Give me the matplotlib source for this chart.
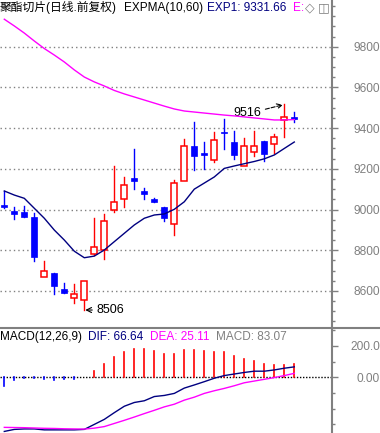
import numpy as np
import matplotlib.pyplot as plt
from matplotlib.lines import Line2D
from matplotlib.patches import Rectangle
from matplotlib.ticker import MultipleLocator

plt.rcParams['font.family'] = ['Liberation Sans', 'Noto Sans CJK SC', 'DejaVu Sans']

# daily candles (index 0..29)
opens  = [9020, 8993, 8988, 8965, 8667, 8686, 8609, 8564, 8554, 8780,
          8801, 8998, 9050, 9153, 9091, 9050, 9011, 8927, 9139, 9312,
          9272, 9243, 9380, 9333, 9216, 9285, 9337, 9321, 9440, 9452]
highs  = [9091, 9012, 9019, 8984, 8748, 8688, 8637, 8632, 8647, 8960,
          8977, 9214, 9158, 9296, 9104, 9057, 9013, 9145, 9345, 9431,
          9333, 9379, 9447, 9387, 9350, 9388, 9337, 9369, 9516, 9481]
lows   = [9009, 8955, 8962, 8748, 8667, 8583, 8588, 8539, 8506, 8778,
          8758, 8988, 9014, 9099, 9050, 9035, 8945, 8876, 9139, 9194,
          9197, 9235, 9298, 9249, 9216, 9264, 9240, 9277, 9358, 9428]
closes = [9012, 8980, 8965, 8765, 8698, 8622, 8588, 8583, 8647, 8817,
          8942, 9037, 9119, 9141, 9075, 9038, 8960, 9129, 9312, 9264,
          9270, 9340, 9377, 9266, 9310, 9311, 9271, 9355, 9453, 9449]

exp1 = [9091, 9071, 9055, 9006, 8957, 8899, 8850, 8795, 8763, 8771,
        8801, 8842, 8883, 8924, 8957, 8973, 8978, 9001, 9038, 9100,
        9130, 9160, 9202, 9214, 9225, 9236, 9249, 9268, 9300, 9331.66]
exp2 = [9935, 9902, 9867, 9828, 9791, 9759, 9725, 9686, 9651, 9627,
        9607, 9585, 9568, 9553, 9538, 9523, 9508, 9494, 9484, 9479,
        9474, 9469, 9464, 9460, 9455, 9450, 9445, 9440, 9440, 9442]

dif = [-346, -333, -330, -330, -336, -336, -336, -336, -333, -301,
       -269, -226, -185, -161, -150, -123, -116, -103, -69, -49,
       -28, -6, 11, 21, 31, 39, 39, 47, 58, 66.64]
dea = [-320, -321, -322, -324, -326, -327, -329, -330, -331, -325,
       -315, -295, -275, -254, -232, -211, -189, -172, -146, -127,
       -103, -86, -71, -54, -35, -24, -13, -2, 11, 25.11]
macd = [-55, -19, -2, -6, -13, -17, -13, -8, -1, 43,
        87, 128, 164, 181, 181, 168, 149, 149, 175, 175,
        168, 164, 164, 136, 117, 104, 85, 81, 81, 83.07]

price_ticks = [8600, 8800, 9000, 9200, 9400, 9600, 9800]

RED = '#ff0000'
BLUE = '#0000ff'
NAVY = '#000080'
MAG = '#ff00ff'
GRAY = '#808080'

W, H = 380, 433
fig = plt.figure(figsize=(W / 100, H / 100), dpi=100)
ax_r = 331.5 / W
ax = fig.add_axes([0, 105 / H, ax_r, 328 / H])
axm = fig.add_axes([0, 0, ax_r, 105 / H])

x = np.arange(len(opens))
bw = 0.62
for i in x:
    o, h, l, c = opens[i], highs[i], lows[i], closes[i]
    if c > o:
        ax.plot([i, i], [l, o], color=RED, lw=1, zorder=3)
        ax.plot([i, i], [c, h], color=RED, lw=1, zorder=3)
        ax.add_patch(Rectangle((i - bw / 2, o), bw, c - o, facecolor='white',
                               edgecolor=RED, lw=1.1, zorder=4))
    else:
        ax.plot([i, i], [l, h], color=BLUE, lw=1, zorder=3)
        hgt = max(o - c, 9)
        ax.add_patch(Rectangle((i - bw / 2, c - (hgt - (o - c)) / 2), bw, hgt,
                               facecolor=BLUE, edgecolor=BLUE, lw=0.5, zorder=4))

ax.plot(x, exp1, color=NAVY, lw=1, zorder=5)
ax.plot(x, exp2, color=MAG, lw=1, zorder=5)

for p in price_ticks:
    ax.axhline(p, color=GRAY, lw=1, ls=(0, (1, 2.2)), zorder=1)

ax.annotate('9516', xy=(28, 9516), xytext=(24.3, 9476), fontsize=9,
            ha='center', va='center',
            arrowprops=dict(arrowstyle='->', color='black', lw=0.8, ls='--',
                            relpos=(1, 0.7), shrinkA=1, shrinkB=1))
ax.annotate('8506', xy=(8.1, 8506), xytext=(10.6, 8506), fontsize=9,
            ha='center', va='center',
            arrowprops=dict(arrowstyle='->', color='black', lw=0.8,
                            relpos=(0, 0.5), shrinkA=1, shrinkB=0))

ax.set_xlim(-0.43, 32.72)
ax.set_ylim(8417.7, 10029.5)
ax.set_yticks(price_ticks)
ax.yaxis.set_minor_locator(MultipleLocator(50))

# MACD panel
for i in x:
    axm.plot([i, i], [0, macd[i]], color=RED if macd[i] > 0 else BLUE, lw=1.2)
axm.plot(x, dif, color=NAVY, lw=1)
axm.plot(x, dea, color=MAG, lw=1)
axm.axhline(0, color='black', lw=1, ls=(0, (1, 1.2)), zorder=0)
axm.set_xlim(-0.43, 32.72)
axm.set_ylim(-356, 315)
axm.set_yticks([0, 200])
axm.set_yticklabels(['0.00', '200.0'])
axm.yaxis.set_minor_locator(MultipleLocator(100))

for a in (ax, axm):
    a.set_xticks([])
    for s in ('top', 'bottom', 'left'):
        a.spines[s].set_visible(False)
    a.spines['right'].set_color(GRAY)
    a.spines['right'].set_linewidth(1.5)
    a.yaxis.tick_right()
    a.tick_params(axis='y', which='major', length=4, width=1, color=GRAY,
                  labelcolor=GRAY, labelsize=8.6, pad=31)
    a.tick_params(axis='y', which='minor', length=2, width=1, color=GRAY)
    for lbl in a.get_yticklabels():
        lbl.set_horizontalalignment('right')
    a.patch.set_alpha(0)

# separator between panels
fig.add_artist(Line2D([0, 1], [1 - 328 / H, 1 - 328 / H], color=GRAY, lw=1.5,
                      transform=fig.transFigure))

def ftxt(px, py, s, c, **kw):
    fig.text(px / W, 1 - py / H, s, color=c, fontsize=8.5, va='center', **kw)

ftxt(0, 8, '聚酯切片(日线.前复权)', 'black')
ftxt(124, 8, 'EXPMA(10,60)', 'black')
ftxt(207, 8, 'EXP1: 9331.66', NAVY)
ftxt(293, 8, 'E:', MAG)
fig.text(305 / W, 1 - 8 / H, '◇', color=GRAY, fontsize=9, va='center',
         family=['DejaVu Sans'])
fig.text(318 / W, 1 - 8 / H, '◫', color=GRAY, fontsize=9, va='center',
         family=['DejaVu Sans'])

ftxt(0, 337, 'MACD(12,26,9)', 'black')
ftxt(88, 337, 'DIF: 66.64', NAVY)
ftxt(150, 337, 'DEA: 25.11', MAG)
ftxt(216, 337, 'MACD: 83.07', GRAY)

fig.savefig('out.png', dpi=100)
